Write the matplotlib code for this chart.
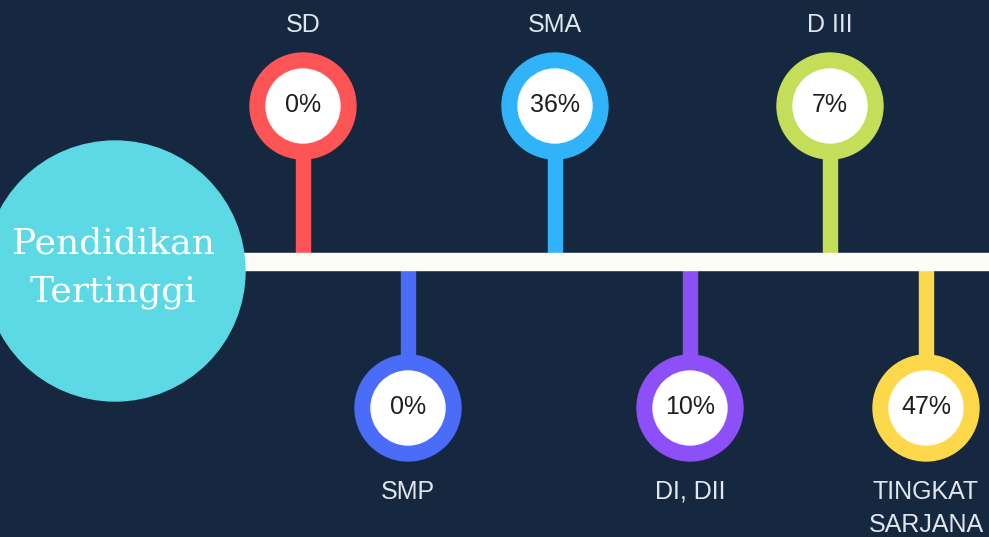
import matplotlib.pyplot as plt
from matplotlib.patches import Circle, Rectangle

# ── Data ─────────────────────────────────────────────────────────────────────
categories = ["SD", "SMP", "SMA", "DI, DII", "D III", "TINGKAT\nSARJANA"]
shares = [0, 0, 36, 10, 7, 47]  # percent
title = "Pendidikan\nTertinggi"

# ── Layout / style (pixel coordinates) ───────────────────────────────────────
W, H = 989, 537
x_pos = [303, 408, 555, 690, 830, 926]
above = [True, False, True, False, True, False]
colors = ["#fd5456", "#4b6cf8", "#31b3fa", "#8d4ff8", "#c4de5a", "#fdd84a"]
bg = "#16283f"
bar_y, bar_h = 261, 17
r_out, r_in = 53, 37
stem_w = 14
sans = "Liberation Sans"

fig = plt.figure(figsize=(W / 100, H / 100), dpi=100, facecolor=bg)
ax = fig.add_axes([0, 0, 1, 1])
ax.set_xlim(0, W)
ax.set_ylim(H, 0)
ax.set_facecolor(bg)
ax.axis("off")

# big title circle + timeline bar
ax.add_patch(Circle((115, 271), 130, color="#5cd9e4", zorder=3))
ax.text(113, 268, title, ha="center", va="center", color="white",
        fontsize=26, family="DejaVu Serif", linespacing=1.5, zorder=4)
ax.add_patch(Rectangle((240, bar_y - bar_h / 2), W - 240, bar_h,
                       color="#fdfdf8", zorder=2))

for cat, val, x, up, col in zip(categories, shares, x_pos, above, colors):
    cy = 106 if up else 408
    if up:
        ax.add_patch(Rectangle((x - stem_w / 2, cy), stem_w, bar_y - bar_h / 2 - cy,
                               color=col, zorder=1))
        ax.text(x, 25, cat, ha="center", va="center", color="#e2e6ec",
                fontsize=18, family=sans)
    else:
        ax.add_patch(Rectangle((x - stem_w / 2, bar_y + bar_h / 2), stem_w,
                               cy - bar_y - bar_h / 2, color=col, zorder=1))
        ax.text(x, cy + 72, cat, ha="center", va="top", color="#e2e6ec",
                fontsize=18, family=sans, linespacing=1.45)
    ax.add_patch(Circle((x, cy), r_out, color=col, zorder=3))
    ax.add_patch(Circle((x, cy), r_in, color="white", zorder=4))
    ax.text(x, cy - 1, f"{val}%", ha="center", va="center", color="#1e1e1e",
            fontsize=18, family=sans, zorder=5)

fig.savefig("out.png", dpi=100, facecolor=bg)
